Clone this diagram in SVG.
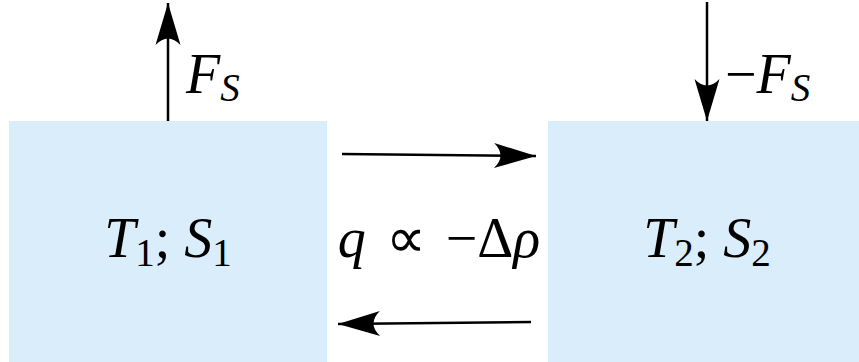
<svg xmlns="http://www.w3.org/2000/svg" width="859" height="362" viewBox="0 0 859 362">
<style>
.box{fill:#daedfb;stroke:none}
.ln{stroke:#000;stroke-width:2.5;fill:none}
.t{font-family:'Liberation Serif','Times New Roman',serif;font-size:56px;fill:#000}
.i{font-style:italic}
</style>
<defs>
<marker id="ah" markerUnits="userSpaceOnUse" markerWidth="50" markerHeight="30" viewBox="-44 -15 46 30" refX="0" refY="0" orient="auto">
<path d="M0,0 L-42,-12.5 Q-29,0 -42,12.5 Z" fill="#000"/>
</marker>
</defs>
<g id="box1">
<rect class="box" x="9" y="121" width="318" height="241"/>
<text class="t" x="168" y="257" text-anchor="middle"><tspan class="i">T</tspan><tspan font-size="39" dy="9">1</tspan><tspan dy="-9">; </tspan><tspan class="i">S</tspan><tspan font-size="39" dy="9">1</tspan></text>
</g>
<g id="box2">
<rect class="box" x="548" y="121" width="311" height="241"/>
<text class="t" x="707" y="257" text-anchor="middle"><tspan class="i">T</tspan><tspan font-size="39" dy="9">2</tspan><tspan dy="-9">; </tspan><tspan class="i">S</tspan><tspan font-size="39" dy="9">2</tspan></text>
</g>
<g id="connectors">
<line class="ln" x1="168" y1="121" x2="168" y2="3" marker-end="url(#ah)"/>
<line class="ln" x1="707" y1="2" x2="707" y2="121" marker-end="url(#ah)"/>
<line class="ln" x1="342" y1="154" x2="536" y2="156" marker-end="url(#ah)"/>
<line class="ln" x1="531" y1="322" x2="338" y2="324" marker-end="url(#ah)"/>
</g>
<g id="labels">
<text class="t" x="186" y="93"><tspan class="i">F</tspan><tspan class="i" font-size="39" dy="8">S</tspan></text>
<text class="t" x="725" y="93">−<tspan class="i">F</tspan><tspan class="i" font-size="39" dy="8">S</tspan></text>
<text class="t" x="439" y="257" text-anchor="middle" word-spacing="6"><tspan class="i">q</tspan> ∝ −Δ<tspan class="i">ρ</tspan></text>
</g>
</svg>
